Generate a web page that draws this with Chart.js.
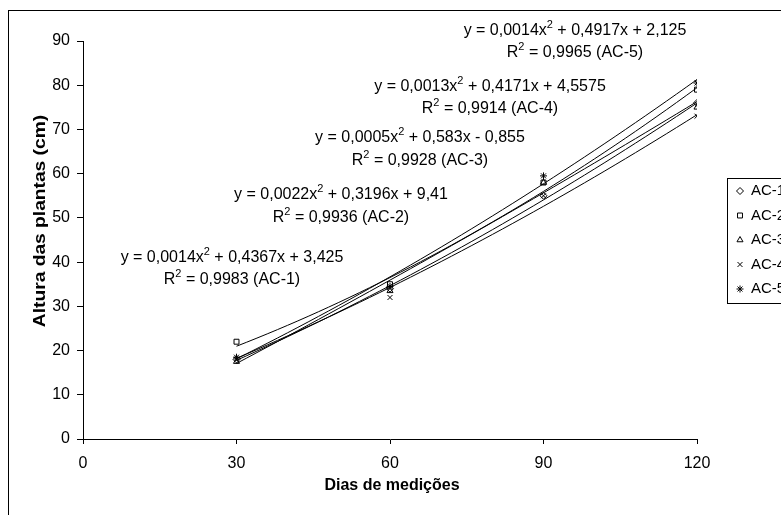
<!DOCTYPE html>
<html>
<head>
<meta charset="utf-8">
<script src="https://cdn.jsdelivr.net/npm/chart.js@4"></script>
<style>
  body { margin: 0; background: #fff; }
  canvas { display: block; }
</style>
</head>
<body>
<canvas id="growthChart" width="781" height="515"></canvas>
<script>
const days = [30, 60, 90, 120];
const seriesNames = ['AC-1', 'AC-2', 'AC-3', 'AC-4', 'AC-5'];
const ac1 = [18, 34, 55, 76];
const ac2 = [22, 35, 58, 79];
const ac3 = [17.5, 33.5, 58, 75];
const ac4 = [18, 32, 55, 73];
const ac5 = [18.5, 34.5, 59.5, 80.5];

// quadratic trend coefficients (y = a x^2 + b x + c) and R2 per series
const trendA = [0.0014, 0.0022, 0.0005, 0.0013, 0.0014];
const trendB = [0.4367, 0.3196, 0.583, 0.4171, 0.4917];
const trendC = [3.425, 9.41, -0.855, 4.5575, 2.125];
const rSquared = ['0,9983', '0,9936', '0,9928', '0,9914', '0,9965'];

const xTicks = [0, 30, 60, 90, 120];
const yTicks = [0, 10, 20, 30, 40, 50, 60, 70, 80, 90];

const FONT = "'Liberation Sans', Arial, sans-serif";
const markers = ['rectRot', 'rect', 'triangle', 'crossRot', 'star'];
const values = [ac1, ac2, ac3, ac4, ac5];

const pointSets = values.map((vals, i) => ({
    label: seriesNames[i],
    data: days.map((d, j) => ({ x: d, y: vals[j] })),
    showLine: false,
    pointStyle: markers[i],
    pointRadius: 3.5,
    pointBorderWidth: 1,
    pointBorderColor: '#000',
    pointBackgroundColor: 'rgba(0,0,0,0)'
}));

// trend curves evaluated from the fitted equations over the measured range
const trendSets = seriesNames.map((name, i) => {
    const pts = [];
    for (let x = days[0]; x <= days[days.length - 1]; x += 2) {
        pts.push({ x: x, y: trendA[i] * x * x + trendB[i] * x + trendC[i] });
    }
    return {
        label: name + ' trend',
        data: pts,
        showLine: true,
        pointRadius: 0,
        borderColor: '#000',
        borderWidth: 1,
        tension: 0
    };
});

const fmt = v => String(v).replace('.', ',');

// equation labels: centre x, line-1 y, line-2 y
const eqPos = [[232, 258, 280], [341, 195, 218], [420, 138, 161], [490, 87, 109], [575, 31, 53]];

function drawEquation(ctx, i) {
    const [cx, y1, y2] = eqPos[i];
    const c = trendC[i];
    const p1 = 'y = ' + fmt(trendA[i]) + 'x';
    const p2 = ' + ' + fmt(trendB[i]) + 'x ' + (c < 0 ? '- ' : '+ ') + fmt(Math.abs(c));
    const big = '16px ' + FONT, small = '11px ' + FONT;
    ctx.font = big;
    const w1 = ctx.measureText(p1).width, w3 = ctx.measureText(p2).width;
    ctx.font = small;
    const w2 = ctx.measureText('2').width;
    let x = cx - (w1 + w2 + w3) / 2;
    ctx.textAlign = 'left';
    ctx.textBaseline = 'middle';
    ctx.font = big; ctx.fillText(p1, x, y1); x += w1;
    ctx.font = small; ctx.fillText('2', x, y1 - 6); x += w2;
    ctx.font = big; ctx.fillText(p2, x, y1);

    const q1 = 'R', q2 = ' = ' + rSquared[i] + ' (' + seriesNames[i] + ')';
    ctx.font = big;
    const v1 = ctx.measureText(q1).width, v3 = ctx.measureText(q2).width;
    x = cx - (v1 + w2 + v3) / 2;
    ctx.fillText(q1, x, y2); x += v1;
    ctx.font = small; ctx.fillText('2', x, y2 - 6); x += w2;
    ctx.font = big; ctx.fillText(q2, x, y2);
}

const decorations = {
    id: 'decorations',
    afterDraw(chart) {
        const ctx = chart.ctx;
        ctx.save();
        ctx.strokeStyle = '#000';
        ctx.fillStyle = '#000';
        ctx.lineWidth = 1;
        ctx.strokeRect(8.5, 10.5, 820, 600);

        for (let i = 0; i < seriesNames.length; i++) drawEquation(ctx, i);

        // axis titles
        ctx.font = 'bold 16px ' + FONT;
        ctx.textAlign = 'center';
        ctx.textBaseline = 'middle';
        ctx.fillText('Dias de medições', 392, 486);
        ctx.save();
        ctx.translate(41, 221);
        ctx.rotate(-Math.PI / 2);
        ctx.scale(1.2, 1);
        ctx.fillText('Altura das plantas (cm)', 0, 0);
        ctx.restore();

        // legend box with hollow markers
        ctx.strokeRect(727.5, 178.5, 100, 125);
        ctx.font = '15px ' + FONT;
        ctx.textAlign = 'left';
        seriesNames.forEach((name, i) => {
            const y = 191 + i * 24.5;
            ctx.save();
            ctx.fillStyle = 'rgba(0,0,0,0)';
            Chart.helpers.drawPoint(ctx, { pointStyle: markers[i], radius: 3.5, rotation: 0, borderWidth: 1 }, 740, y);
            ctx.restore();
            ctx.fillText(name, 751, y);
        });
        ctx.restore();
    }
};

new Chart(document.getElementById('growthChart'), {
    type: 'scatter',
    data: { datasets: pointSets.concat(trendSets) },
    options: {
        responsive: false,
        animation: false,
        layout: { padding: { top: 41, right: 84, left: 0, bottom: 0 } },
        plugins: { legend: { display: false }, tooltip: { enabled: false } },
        scales: {
            x: {
                type: 'linear',
                min: xTicks[0],
                max: xTicks[xTicks.length - 1],
                afterBuildTicks: s => { s.ticks = xTicks.map(v => ({ value: v })); },
                afterFit: s => { s.height = 76; },
                ticks: { color: '#000', font: { size: 16, family: FONT }, padding: 10, maxRotation: 0 },
                grid: { drawOnChartArea: false, tickLength: 5, tickColor: '#000', color: '#000' },
                border: { color: '#000', width: 1 }
            },
            y: {
                min: yTicks[0],
                max: yTicks[yTicks.length - 1],
                afterBuildTicks: s => { s.ticks = yTicks.map(v => ({ value: v })); },
                afterFit: s => { s.width = 83; },
                ticks: { color: '#000', font: { size: 16, family: FONT }, padding: 7 },
                grid: { drawOnChartArea: false, tickLength: 6, tickColor: '#000', color: '#000' },
                border: { color: '#000', width: 1 }
            }
        }
    },
    plugins: [decorations]
});
</script>
</body>
</html>
